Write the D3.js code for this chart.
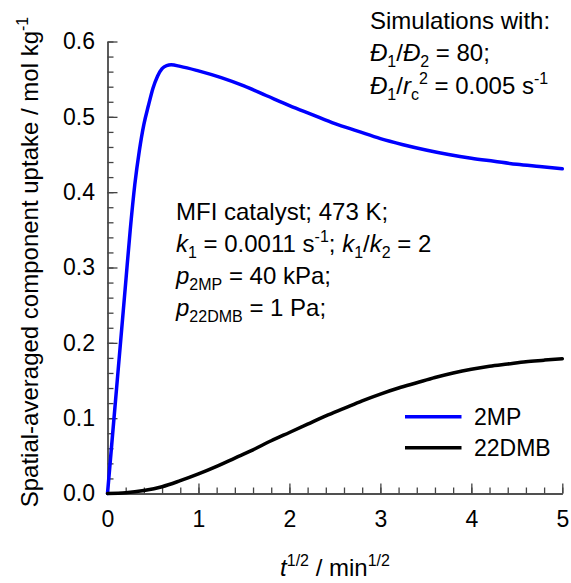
<!DOCTYPE html>
<html lang="en">
<head>
    <meta charset="UTF-8">
    <title>Uptake</title>
    <script type="application/javascript" src="https://cdnjs.cloudflare.com/ajax/libs/d3/7.8.5/d3.min.js"></script>
    <style type="text/css">
        body { margin: 0; background: #fff; }
        text { font-family: "Liberation Sans", Arial, sans-serif; fill: #000; }
        .axis path, .axis line { stroke: #444; stroke-width: 1.3; }
        .axis text { font-size: 23px; fill: #000; }
    </style>
</head>
<body>
<svg id="chart" width="571" height="583"></svg>
<script type="application/javascript">
    // data
    var xTicks = [0, 1, 2, 3, 4, 5];
    var yTicks = [0, 0.1, 0.2, 0.3, 0.4, 0.5, 0.6];

    var t2MP = [0, 0.05, 0.1, 0.15, 0.2, 0.25, 0.3, 0.35, 0.4, 0.45, 0.5, 0.55, 0.6, 0.65, 0.7, 0.8,
        1.0, 1.25, 1.5, 1.75, 2.0, 2.25, 2.5, 2.75, 3.0, 3.25, 3.5, 3.75, 4.0, 4.25, 4.5, 4.75, 5.0];
    var q2MP = [0, 0.07, 0.14, 0.21, 0.28, 0.35, 0.41, 0.455, 0.49, 0.515, 0.538, 0.554, 0.564, 0.568, 0.569, 0.567,
        0.561, 0.552, 0.541, 0.528, 0.515, 0.503, 0.491, 0.481, 0.471, 0.463, 0.456, 0.45, 0.445, 0.441, 0.437, 0.434, 0.431];

    var t22DMB = [0, 0.2, 0.4, 0.6, 0.8, 1.0, 1.2, 1.4, 1.6, 1.8, 2.0, 2.2, 2.4, 2.6, 2.8, 3.0,
        3.2, 3.4, 3.6, 3.8, 4.0, 4.2, 4.4, 4.6, 4.8, 5.0];
    var q22DMB = [0, 0.001, 0.004, 0.009, 0.017, 0.026, 0.036, 0.047, 0.058, 0.07, 0.081, 0.092, 0.103, 0.113, 0.123, 0.132,
        0.14, 0.147, 0.154, 0.16, 0.165, 0.169, 0.172, 0.175, 0.177, 0.179];

    var seriesNames = ['2MP', '22DMB'];
    var seriesColors = ['#0000ff', '#000000'];

    var svg = d3.select('#chart');
    var margin = {top: 41.5, left: 107.5};
    var width = 454.8, height = 452;

    var vis = svg.append('g')
        .attr('transform', 'translate(' + margin.left + ',' + margin.top + ')');

    var x = d3.scaleLinear().domain([0, 5]).range([0, width]);
    var y = d3.scaleLinear().domain([0, 0.6]).range([height, 0]);

    // minor ticks first
    vis.append('g')
        .attr('class', 'axis')
        .attr('transform', 'translate(0,' + height + ')')
        .call(d3.axisBottom(x).tickValues(d3.range(0, 5.001, 0.2)).tickSizeInner(-6).tickSizeOuter(0).tickFormat(''));
    vis.append('g')
        .attr('class', 'axis')
        .call(d3.axisLeft(y).tickValues(d3.range(0, 0.6001, 0.02)).tickSizeInner(-6).tickSizeOuter(0).tickFormat(''));

    vis.append('g')
        .attr('class', 'axis')
        .attr('transform', 'translate(0,' + height + ')')
        .call(d3.axisBottom(x).tickValues(xTicks).tickSizeInner(-10).tickSizeOuter(0).tickPadding(17).tickFormat(d3.format('d')));
    vis.append('g')
        .attr('class', 'axis')
        .call(d3.axisLeft(y).tickValues(yTicks).tickSizeInner(-10).tickSizeOuter(0).tickPadding(12.5).tickFormat(d3.format('.1f')));

    var line = d3.line()
        .x(function (d) { return x(d[0]); })
        .y(function (d) { return y(d[1]); })
        .curve(d3.curveMonotoneX);

    var series = [
        d3.zip(t2MP, q2MP),
        d3.zip(t22DMB, q22DMB)
    ];

    vis.selectAll('.series')
        .data(series)
        .enter().append('path')
        .attr('class', 'series')
        .attr('fill', 'none')
        .attr('stroke', function (d, i) { return seriesColors[i]; })
        .attr('stroke-width', 3.5)
        .attr('stroke-linejoin', 'round')
        .attr('stroke-linecap', 'round')
        .attr('d', line);

    // legend
    var legend = svg.append('g');
    seriesNames.forEach(function (name, i) {
        var ly = 416.7 + i * 31;
        legend.append('line')
            .attr('x1', 405).attr('x2', 461.5)
            .attr('y1', ly).attr('y2', ly)
            .attr('stroke', seriesColors[i])
            .attr('stroke-width', 3.5);
        legend.append('text')
            .attr('x', 474).attr('y', ly + 8)
            .style('font-size', '23px')
            .text(name);
    });

    // rich text line: parts are [text, style], style '', 'i', 'sub', 'sup', 'isub'
    function richLine(g, xPos, yPos, parts) {
        var t = g.append('text').attr('x', xPos).attr('y', yPos).style('font-size', '24px');
        parts.forEach(function (p) {
            var s = t.append('tspan').text(p[0]);
            var st = p[1] || '';
            if (st.indexOf('i') >= 0) { s.style('font-style', 'italic'); }
            if (st.indexOf('sub') >= 0) { s.attr('baseline-shift', '-6').style('font-size', '16px'); }
            if (st.indexOf('sup') >= 0) { s.attr('baseline-shift', '10').style('font-size', '16px'); }
        });
        return t;
    }

    var notes = svg.append('g');
    richLine(notes, 370, 29, [['Simulations with:']]);
    richLine(notes, 370, 61, [['\u0110', 'i'], ['1', 'sub'], ['/', ''], ['\u0110', 'i'], ['2', 'sub'], [' = 80;']]);
    richLine(notes, 370, 94, [['\u0110', 'i'], ['1', 'sub'], ['/', ''], ['r', 'i'], ['c', 'sub'], ['2', 'sup'], [' = 0.005 s'], ['-1', 'sup']]);

    richLine(notes, 176, 220, [['MFI catalyst; 473 K;']]);
    richLine(notes, 176, 252, [['k', 'i'], ['1', 'sub'], [' = 0.0011 s'], ['-1', 'sup'], ['; '], ['k', 'i'], ['1', 'sub'], ['/'], ['k', 'i'], ['2', 'sub'], [' = 2']]);
    richLine(notes, 176, 284, [['p', 'i'], ['2MP', 'sub'], [' = 40 kPa;']]);
    richLine(notes, 176, 316, [['p', 'i'], ['22DMB', 'sub'], [' = 1 Pa;']]);

    // axis titles
    richLine(svg, 335, 576, [['t', 'i'], ['1/2', 'sup'], [' / min'], ['1/2', 'sup']])
        .attr('text-anchor', 'middle');

    richLine(svg, 0, 0, [['Spatial-averaged component uptake / mol kg'], ['-1', 'sup']])
        .attr('text-anchor', 'middle')
        .attr('transform', 'translate(38,262)rotate(-90)');
</script>
</body>
</html>
